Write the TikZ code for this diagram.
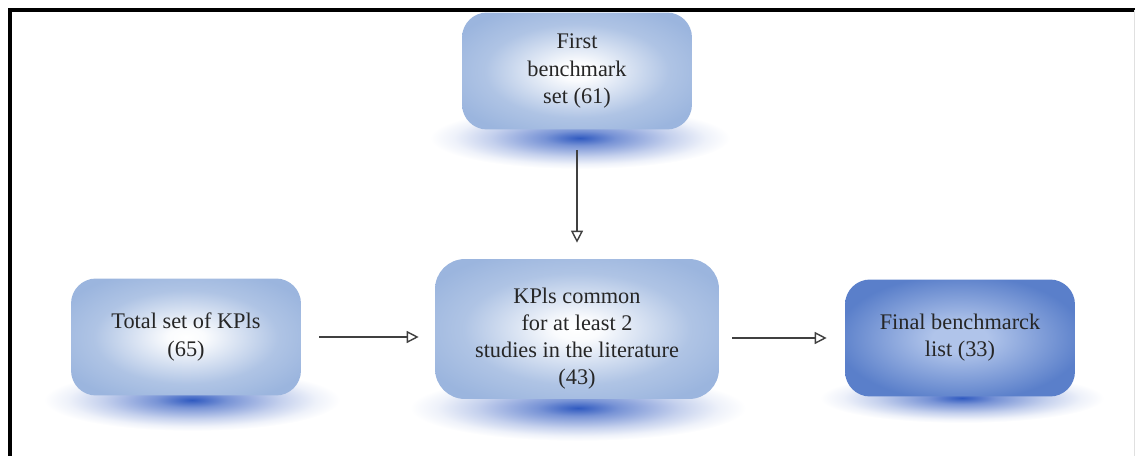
\documentclass[tikz,border=0pt]{standalone}
\usepackage{fontspec}
\setmainfont{Liberation Serif}
\usetikzlibrary{arrows.meta}

\definecolor{boxblue}{RGB}{155,181,222}
\definecolor{deepblue}{RGB}{90,127,202}
\definecolor{paleblue}{RGB}{176,196,234}
\definecolor{shadeblue}{RGB}{48,90,192}

\pgfdeclareradialshading{boxglow}{\pgfpoint{0bp}{0bp}}{color(0bp)=(white); color(4bp)=(white!95!boxblue); color(20bp)=(boxblue!80!white); color(30bp)=(boxblue); color(50bp)=(boxblue)}
\pgfdeclareradialshading{finalglow}{\pgfpoint{0bp}{0bp}}{color(0bp)=(paleblue); color(6bp)=(paleblue); color(27bp)=(deepblue); color(50bp)=(deepblue)}
\pgfdeclareradialshading{shadowglow}{\pgfpoint{0bp}{0bp}}{color(0bp)=(shadeblue); color(6bp)=(shadeblue!65!white); color(15bp)=(shadeblue!28!white); color(21bp)=(shadeblue!8!white); color(25bp)=(white); color(50bp)=(white)}

\begin{document}
\begin{tikzpicture}[x=0.02cm, y=-0.02cm,
  box/.style={rounded corners=0.5cm, minimum width=4.6cm, minimum height=2.34cm, inner sep=0pt,
    align=center, text=black!85, font=\fontsize{12.7}{15.5}\selectfont, shading=boxglow},
  arr/.style={draw=black!75, line width=0.8pt, -{Triangle[open, length=0.24cm, width=0.24cm]}}]
\useasboundingbox (0,0) rectangle (1135,456);
% frame
\draw[line width=0.08cm] (10,456) -- (10,10) -- (1135,10);
\draw[black!12, line width=0.02cm] (1134,10) -- (1134,456);
% shadows under the boxes
\shade[shading=shadowglow] (580,138) ellipse [x radius=150, y radius=31];
\shade[shading=shadowglow] (192,400) ellipse [x radius=148, y radius=31];
\shade[shading=shadowglow] (578,408) ellipse [x radius=168, y radius=33];
\shade[shading=shadowglow] (962,398) ellipse [x radius=142, y radius=25];
% boxes
\node[box] (first) at (577,71) {First\\benchmark\\set (61)};
\node[box] (total) at (186,337) {Total set of KPls\\(65)};
\node[box, minimum width=5.68cm, minimum height=2.8cm, rounded corners=0.6cm] (common) at (577,329)
  {\rule{0pt}{0.7cm}KPls common\\for at least 2\\studies in the literature\\(43)};
\node[box, shading=finalglow] (final) at (960,338) {Final benchmarck\\list (33)};
% arrows
\draw[arr, shorten <=0.4cm, shorten >=0.32cm] (first) -- (common);
\draw[arr, shorten <=0.36cm, shorten >=0.32cm] (total.east) -- (total.east -| common.west);
\draw[arr, shorten <=0.26cm, shorten >=0.36cm] (common.east |- final.west) -- (final.west);
\end{tikzpicture}
\end{document}
